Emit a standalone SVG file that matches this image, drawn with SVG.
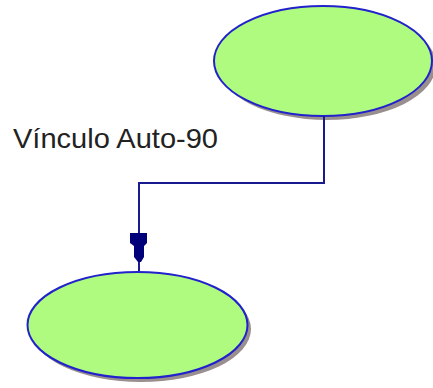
<svg xmlns="http://www.w3.org/2000/svg" width="433" height="388" viewBox="0 0 433 388">
<style>
.shadow{fill:#9a8f8f;}
.node{fill:#aefb80;stroke:#2222cc;stroke-width:2;}
.conn{fill:none;stroke:#1a1a90;stroke-width:2;}
.head{fill:#00007a;stroke:none;}
.lbl{font-family:"Liberation Sans",Arial,sans-serif;font-size:28px;fill:#222;}
</style>
<rect width="433" height="388" fill="#fff"/>
<g id="node-top">
<ellipse class="shadow" cx="327" cy="65" rx="109" ry="55"/>
<ellipse class="node" cx="323" cy="61" rx="109" ry="55"/>
</g>
<g id="node-bottom">
<ellipse class="shadow" cx="141" cy="329" rx="110" ry="53"/>
<ellipse class="node" cx="137.5" cy="325" rx="110" ry="53"/>
</g>
<g id="connectors">
<polyline class="conn" points="324,116 324,183 139,183 139,271"/>
<polygon class="head" points="130,233 147,233 147,243 144,246 144,257 141,262 138,262 134,257 134,246 130,243"/>
</g>
<text class="lbl" x="13" y="148" textLength="205" lengthAdjust="spacingAndGlyphs">Vínculo Auto-90</text>
</svg>
